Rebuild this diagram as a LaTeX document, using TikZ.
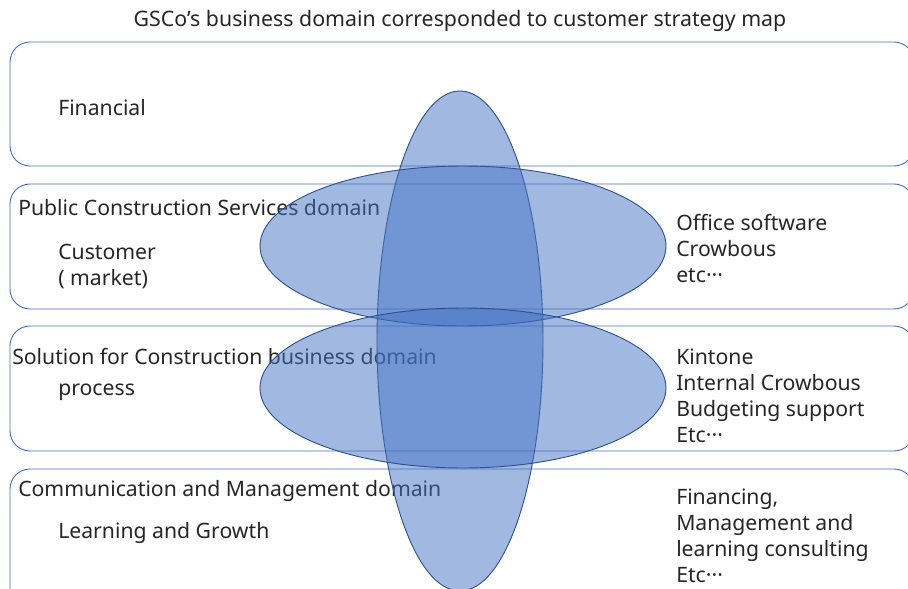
\documentclass[tikz,border=0pt]{standalone}
\usepackage{fontspec}
\setmainfont{Noto Sans}
\definecolor{boxblue}{HTML}{4A6FB5}
\definecolor{rimblue}{HTML}{2F528F}
\definecolor{fillblue}{HTML}{4472C4}
\definecolor{inkgray}{HTML}{262626}
\tikzset{
  domainbox/.style={draw=boxblue, line width=0.7pt, rounded corners=15pt},
  blob/.style={draw=rimblue, line width=0.7pt, fill=fillblue, fill opacity=0.5},
  lbl/.style={anchor=west, inner sep=0pt, text=inkgray, font=\fontsize{15.9}{19.5}\selectfont},
  lst/.style={lbl, align=left},
}
\begin{document}
\begin{tikzpicture}[x=0.75pt, y=-0.75pt]
\useasboundingbox (0,0) rectangle (908,589);
\clip (0,0) rectangle (908,589);
% title
\node[lbl, anchor=center, font=\fontsize{16}{18}\selectfont] (title) at (460,21)
  {GSCo's business domain corresponded to customer strategy map};
% the four perspective rows
\draw[domainbox] (10,42) rectangle (914,166);
\draw[domainbox] (10,184) rectangle (914,309);
\draw[domainbox] (10,326) rectangle (914,451);
\draw[domainbox] (10,469) rectangle (914,610);
% left labels
\node[lbl] (fin) at (58,108) {Financial};
\node[lbl] (pcs) at (18,208) {Public Construction Services domain};
\node[lst] (cust) at (58,266) {Customer\\( market)};
\node[lbl] (scb) at (12,356) {Solution for Construction business domain};
\node[lbl] (proc) at (58,392) {process};
\node[lbl] (cmd) at (18,491) {Communication and Management domain};
\node[lbl] (learn) at (58,533) {Learning and Growth};
% right lists
\node[lst] (pcslist) at (676,248) {Office software\\Crowbous\\etc\textperiodcentered\textperiodcentered\textperiodcentered};
\node[lst] (scblist) at (676,396) {Kintone\\Internal Crowbous\\Budgeting support\\Etc\textperiodcentered\textperiodcentered\textperiodcentered};
\node[lst] (cmdlist) at (676,536) {Financing,\\Management and\\learning consulting\\Etc\textperiodcentered\textperiodcentered\textperiodcentered};
% overlapping domains
\draw[blob] (460,341) ellipse [x radius=83, y radius=250];
\draw[blob] (463,246) ellipse [x radius=203, y radius=80];
\draw[blob] (463,388) ellipse [x radius=203, y radius=80];
\end{tikzpicture}
\end{document}
